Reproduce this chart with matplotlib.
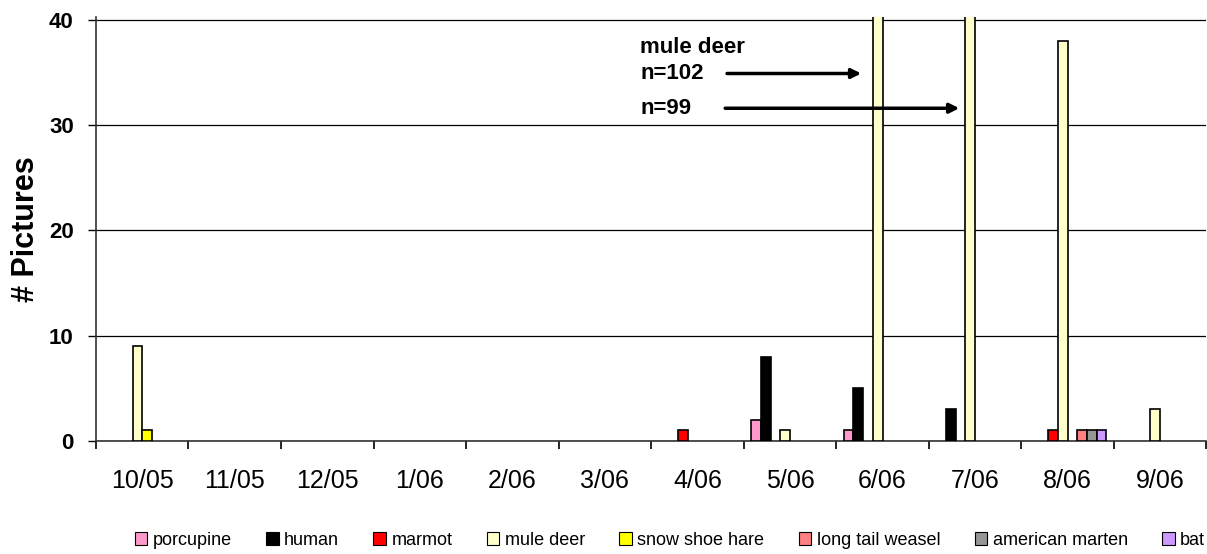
import matplotlib
matplotlib.use('Agg')
from matplotlib import pyplot as plt
import numpy as np

plt.rcParams['font.family'] = ['Liberation Sans', 'DejaVu Sans']

months = ['10/05', '11/05', '12/05', '1/06', '2/06', '3/06',
          '4/06', '5/06', '6/06', '7/06', '8/06', '9/06']

species = ['porcupine', 'human', 'marmot', 'mule deer', 'snow shoe hare',
           'long tail weasel', 'american marten', 'bat']
colors = ['#FF99CC', '#000000', '#FF0000', '#FFFFCC', '#FFFF00',
          '#FF8080', '#969696', '#CC99FF']

porcupine = [0, 0, 0, 0, 0, 0, 0, 2, 1, 0, 0, 0]
human = [0, 0, 0, 0, 0, 0, 0, 8, 5, 3, 0, 0]
marmot = [0, 0, 0, 0, 0, 0, 1, 0, 0, 0, 1, 0]
mule_deer = [9, 0, 0, 0, 0, 0, 0, 1, 102, 99, 38, 3]
snow_shoe_hare = [1, 0, 0, 0, 0, 0, 0, 0, 0, 0, 0, 0]
long_tail_weasel = [0, 0, 0, 0, 0, 0, 0, 0, 0, 0, 1, 0]
american_marten = [0, 0, 0, 0, 0, 0, 0, 0, 0, 0, 1, 0]
bat = [0, 0, 0, 0, 0, 0, 0, 0, 0, 0, 1, 0]

series = [porcupine, human, marmot, mule_deer, snow_shoe_hare,
          long_tail_weasel, american_marten, bat]

fig = plt.figure(figsize=(12.07, 5.54), dpi=100)
ax = fig.add_axes([0.0795, 0.204, 0.92, 0.765])

x = np.arange(len(months))
w = 0.84 / len(series)
for k, (vals, name, c) in enumerate(zip(series, species, colors)):
    pos = x + (k - len(series) / 2 + 0.5) * w
    vals = np.array(vals, dtype=float)
    mask = vals > 0
    ax.bar(pos[mask], vals[mask], width=w, color=c, edgecolor='black',
           linewidth=1.2, zorder=3)
    ax.bar([np.nan], [0], width=w, color=c, edgecolor='black',
           linewidth=0.8, label=name)

ax.set_xlim(-0.5, len(months) - 0.5)
ax.set_ylim(0, 40.25)
ax.set_yticks([0, 10, 20, 30, 40])
ax.grid(axis='y', color='black', linewidth=0.9, zorder=0)

ax.set_xticks(x)
ax.set_xticklabels(months, fontsize=18)
ax.set_xticks(np.arange(-0.5, len(months)), minor=True)
ax.tick_params(axis='x', which='major', length=0, pad=20)
ax.tick_params(axis='x', which='minor', length=6, width=1.2, direction='out')
ax.tick_params(axis='y', length=6, width=1, labelsize=16, pad=10)
for lab in ax.get_yticklabels():
    lab.set_fontweight('bold')

for s in ['top', 'right']:
    ax.spines[s].set_visible(False)
for s in ['left', 'bottom']:
    ax.spines[s].set_linewidth(1.2)
    ax.spines[s].set_color('#333333')

ax.set_ylabel('# Pictures', fontsize=22, fontweight='bold', labelpad=6)

# annotation for the clipped mule deer bars
ax.text(5.38, 37.4, 'mule deer', fontsize=16, fontweight='bold', va='center')
ax.text(5.38, 34.9, 'n=102', fontsize=16, fontweight='bold', va='center')
ax.text(5.38, 31.6, 'n=99', fontsize=16, fontweight='bold', va='center')
ax.annotate('', xy=(7.77, 34.9), xytext=(6.32, 34.9),
            arrowprops=dict(arrowstyle='-|>', color='black', lw=2.5,
                            mutation_scale=14, shrinkA=0, shrinkB=0), zorder=5)
ax.annotate('', xy=(8.83, 31.6), xytext=(6.30, 31.6),
            arrowprops=dict(arrowstyle='-|>', color='black', lw=2.5,
                            mutation_scale=14, shrinkA=0, shrinkB=0), zorder=5)

fig.legend(loc='center', bbox_to_anchor=(0.555, 0.025), ncol=8, frameon=False,
           fontsize=13, handlelength=0.7, handleheight=0.7, handletextpad=0.3,
           columnspacing=1.9)

fig.savefig('out.png', dpi=100)
